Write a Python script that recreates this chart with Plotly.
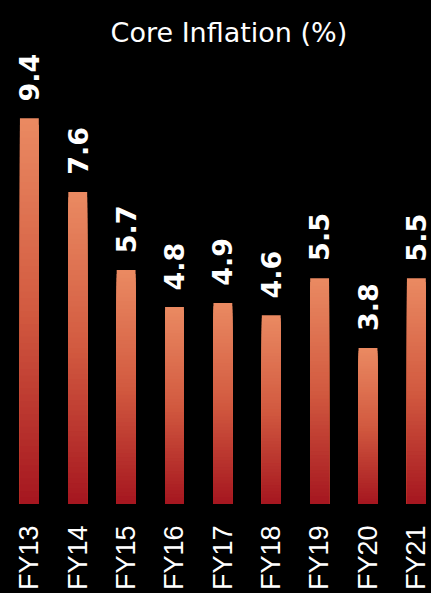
import plotly.graph_objects as go

# Core inflation by fiscal year (%)
years = ["FY13", "FY14", "FY15", "FY16", "FY17", "FY18", "FY19", "FY20", "FY21"]
core_inflation = [9.4, 7.6, 5.7, 4.8, 4.9, 4.6, 5.5, 3.8, 5.5]

# Vertical gradient for each bar: dark red at the base, light orange at the top
GRAD_STOPS = [(0.0, (165, 22, 31)), (0.5, (210, 90, 64)), (1.0, (234, 138, 98))]
N_SEG = 60


def grad_color(t):
    for (t0, c0), (t1, c1) in zip(GRAD_STOPS[:-1], GRAD_STOPS[1:]):
        if t <= t1:
            f = (t - t0) / (t1 - t0)
            r, g, b = (round(a + (b_ - a) * f) for a, b_ in zip(c0, c1))
            return f"rgb({r},{g},{b})"
    r, g, b = GRAD_STOPS[-1][1]
    return f"rgb({r},{g},{b})"


fig = go.Figure()

# Each bar is painted as a series of overlaid bars from the base, tallest first,
# each shorter one a little darker, so the colour runs smoothly from base to top
for k in range(N_SEG):
    frac = (N_SEG - k) / N_SEG
    fig.add_trace(go.Bar(
        x=years,
        y=[v * frac for v in core_inflation],
        width=0.39,
        marker=dict(color=grad_color((N_SEG - k - 0.5) / N_SEG), line=dict(width=0)),
        hoverinfo="skip",
        showlegend=False,
    ))

# Value labels above the bars
for yr, v in zip(years, core_inflation):
    fig.add_annotation(
        x=yr, y=v, text=f"{v}",
        textangle=-90,
        xanchor="center", yanchor="bottom",
        yshift=15,
        showarrow=False,
        font=dict(family="DejaVu Sans", size=27, color="white", weight="bold"),
    )

fig.update_layout(
    width=431,
    height=593,
    margin=dict(l=0, r=0, t=0, b=89),
    paper_bgcolor="black",
    plot_bgcolor="black",
    barmode="overlay",
    title=dict(
        text="Core Inflation (%)",
        x=230 / 431, xanchor="center",
        y=(593 - 33) / 593, yanchor="middle",
        yref="container", xref="paper",
        font=dict(family="DejaVu Sans", size=27, color="white"),
    ),
    xaxis=dict(
        range=[-0.607, 8.261],
        tickangle=-90,
        tickfont=dict(family="Liberation Sans", size=27, color="white"),
        ticklabelstandoff=15,
        showgrid=False, zeroline=False, showline=False, ticks="",
    ),
    yaxis=dict(
        range=[0, 12.28],
        visible=False,
        showgrid=False, zeroline=False,
    ),
)

fig.write_html("out.html")
